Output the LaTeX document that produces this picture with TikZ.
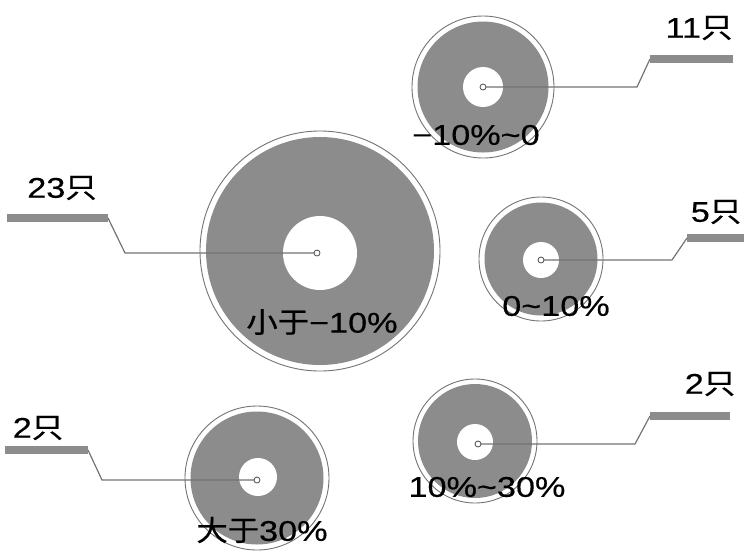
\documentclass[tikz,border=0pt]{standalone}
\usepackage{fontspec}
\setmainfont{Liberation Sans}[FakeStretch=1.2,FakeBold=0.4]
\newfontfamily\cjk{Noto Sans CJK SC}[FakeStretch=1.1,FakeBold=0.5]
\usetikzlibrary{positioning}
\definecolor{discgray}{gray}{0.55}
\tikzset{
    rim/.style={circle,draw=black!55,line width=0.9pt,fill=white,inner sep=0pt},
    disc/.style={circle,fill=discgray,inner sep=0pt},
    hole/.style={circle,fill=white,inner sep=0pt},
    pin/.style={circle,draw=black!70,fill=white,line width=0.8pt,inner sep=0pt,minimum size=6pt},
    lead/.style={draw=black!55,line width=1.2pt},
    bar/.style={draw=discgray,line width=8pt},
    lab/.style={font=\fontsize{28.5}{30}\selectfont,inner sep=0pt}
}

\begin{document}
\begin{tikzpicture}[x=1pt,y=-1pt]
    \useasboundingbox (0,0) rectangle (744,550);
    % -10%~0
    \node[rim,minimum size=142pt]  (r1) at (483,87) {};
    \node[disc,minimum size=131pt] (g1) at (r1) {};
    \node[hole,minimum size=40pt]  (h1) at (r1) {};
    % < -10%
    \node[rim,minimum size=240pt]  (r2) at (320,251) {};
    \node[disc,minimum size=228pt] (g2) at (r2) {};
    \node[hole,minimum size=74pt]  (h2) at (320,253) {};
    % 0~10%
    \node[rim,minimum size=124pt]  (r3) at (541,259) {};
    \node[disc,minimum size=113pt] (g3) at (r3) {};
    \node[hole,minimum size=36pt]  (h3) at (541,260) {};
    % > 30%
    \node[rim,minimum size=144pt]  (r4) at (257,478) {};
    \node[disc,minimum size=133pt] (g4) at (r4) {};
    \node[hole,minimum size=38pt]  (h4) at (258,477) {};
    % 10%~30%
    \node[rim,minimum size=124pt]  (r5) at (475,441) {};
    \node[disc,minimum size=114pt] (g5) at (r5) {};
    \node[hole,minimum size=36pt]  (h5) at (475,442) {};

    % leader lines
    \coordinate (k1) at (637,87);  \coordinate (b1) at (650,59);  \coordinate (e1) at (733,59);
    \coordinate (k2) at (125,253); \coordinate (b2) at (108,218); \coordinate (e2) at (7,218);
    \coordinate (k3) at (672,260); \coordinate (b3) at (687,238); \coordinate (e3) at (744,238);
    \coordinate (k4) at (102,480); \coordinate (b4) at (88,450);  \coordinate (e4) at (5,450);
    \coordinate (k5) at (635,444); \coordinate (b5) at (650,416); \coordinate (e5) at (730,416);
    \draw[lead] (483,87) -- (k1) -- (b1);
    \draw[lead] (317,253) -- (k2) -- (b2);
    \draw[lead] (541,260) -- (k3) -- (b3);
    \draw[lead] (257,480) -- (k4) -- (b4);
    \draw[lead] (478,444) -- (k5) -- (b5);
    \draw[bar] (b1) -- (e1);
    \draw[bar] (b2) -- (e2);
    \draw[bar] (b3) -- (e3);
    \draw[bar] (b4) -- (e4);
    \draw[bar] (b5) -- (e5);
    \node[pin] (p1) at (483,87) {};
    \node[pin] (p2) at (317,253) {};
    \node[pin] (p3) at (541,260) {};
    \node[pin] (p4) at (257,480) {};
    \node[pin] (p5) at (478,444) {};

    % counts
    \node[lab] (n1) at (699,28)  {11{\cjk 只}};
    \node[lab] (n2) at (62,188)  {23{\cjk 只}};
    \node[lab] (n3) at (716,212) {5{\cjk 只}};
    \node[lab] (n4) at (38,428)  {2{\cjk 只}};
    \node[lab] (n5) at (710,384) {2{\cjk 只}};

    % ranges
    \node[lab] (t1) at (476,135) {−10\%\char`\~0};
    \node[lab] (t2) at (322,322) {{\cjk 小于}−10\%};
    \node[lab] (t3) at (556,306) {0\char`\~10\%};
    \node[lab] (t4) at (262,530) {{\cjk 大于}30\%};
    \node[lab] (t5) at (487,487) {10\%\char`\~30\%};
\end{tikzpicture}
\end{document}
